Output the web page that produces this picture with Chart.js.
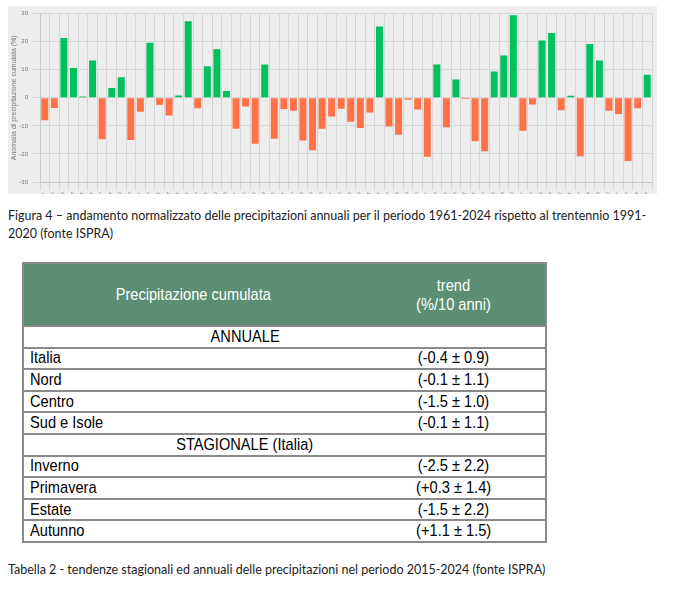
<!DOCTYPE html>
<html>
<head>
<meta charset="utf-8">
<script src="https://cdn.jsdelivr.net/npm/chart.js@4/dist/chart.umd.min.js"></script>
<style>
  body { margin: 0; background: #fff; width: 686px; height: 611px; position: relative; overflow: hidden; }
  .chart-box { position: absolute; left: 8px; top: 6px; width: 649px; height: 188px; background: #ededed; }
  .caption { position: absolute; left: 8px; font-family: Lato, "Open Sans", sans-serif; font-size: 12.5px; color: #222; line-height: 18px; }
  table { position: absolute; left: 22px; top: 262px; width: 525px; border-collapse: collapse;
          font-family: "Liberation Sans", Arial, sans-serif; font-size: 17px; color: #000; }
  th { background: #5b8e73; color: #fff; font-weight: normal; height: 61px; line-height: 19px; padding: 0; }
  th:first-child { border-left: 2px solid #8a8a8a; }
  th:last-child { border-right: 2px solid #8a8a8a; }
  tr.head { border-top: 2px solid #8a8a8a; }
  td { height: 19.6px; border-top: 2px solid #8a8a8a; border-bottom: 2px solid #8a8a8a; padding: 0 6px; line-height: 18px; }
  td:first-child { border-left: 2px solid #8a8a8a; }
  td:last-child { border-right: 2px solid #8a8a8a; }
  .c { text-align: center; }
  .sec { text-align: center; padding-right: 85px; border-left: 2px solid #8a8a8a; border-right: 2px solid #8a8a8a; }
  .n { display: inline-block; transform: scaleX(0.86); transform-origin: center; white-space: nowrap; }
  .l { transform-origin: left; }
</style>
</head>
<body>
<div class="chart-box"><canvas class="js-chart"></canvas></div>

<div class="caption" style="top: 207px;">Figura 4 – andamento normalizzato delle precipitazioni annuali per il periodo 1961-2024 rispetto al trentennio 1991-<br>2020 (fonte ISPRA)</div>

<table>
  <tr class="head"><th style="width: 338px;"><span class="n">Precipitazione cumulata</span></th><th><span class="n">trend<br>(%/10 anni)</span></th></tr>
  <tbody class="js-table"></tbody>
</table>

<div class="caption" style="top: 561px;">Tabella 2 - tendenze stagionali ed annuali delle precipitazioni nel periodo 2015-2024 (fonte ISPRA)</div>

<script>
const years = [];
for (let y = 1961; y <= 2024; y++) years.push(String(y));

const anomalies = [
    -8, -3.6, 21.3, 10.6, 0.5, 13.3, -14.8, 3.5, 7.3, -15,
    -5, 19.6, -2.5, -6.3, 0.8, 27.3, -3.7, 11.2, 17.3, 2.4,
    -11, -3.1, -16.4, 11.9, -14.6, -4, -4.6, -15.2, -18.7, -11,
    -6.7, -3.9, -8.5, -10.8, -5.2, 25.4, -10.2, -13.2, -0.7, -4.2,
    -21, 11.9, -10.5, 6.5, -0.4, -15.5, -19, 9.4, 15.1, 29.4,
    -11.7, -2.4, 20.4, 23.1, -4.4, 0.7, -20.8, 19.2, 13.3, -4.6,
    -5.8, -22.5, -3.7, 8.2
];

const yTicks = [-30, -20, -10, 0, 10, 20, 30];

const annualRegions = ['Italia', 'Nord', 'Centro', 'Sud e Isole'];
const annualTrends = ['(-0.4 ± 0.9)', '(-0.1 ± 1.1)', '(-1.5 ± 1.0)', '(-0.1 ± 1.1)'];
const seasons = ['Inverno', 'Primavera', 'Estate', 'Autunno'];
const seasonTrends = ['(-2.5 ± 2.2)', '(+0.3 ± 1.4)', '(-1.5 ± 2.2)', '(+1.1 ± 1.5)'];

const GREEN = 'rgb(0, 192, 96)';
const ORANGE = 'rgb(255, 114, 72)';

function row(name, trend) {
    return `<tr><td><span class="n l">${name}</span></td><td class="c"><span class="n">${trend}</span></td></tr>`;
}

function buildTable() {
    const body = document.querySelector('.js-table');
    let html = '<tr><td class="sec" colspan="2"><span class="n">ANNUALE</span></td></tr>';
    annualRegions.forEach((name, i) => { html += row(name, annualTrends[i]); });
    html += '<tr><td class="sec" colspan="2"><span class="n">STAGIONALE (Italia)</span></td></tr>';
    seasons.forEach((name, i) => { html += row(name, seasonTrends[i]); });
    body.innerHTML = html;
}

function drawChart() {
    const ctx = document.querySelector('.js-chart').getContext('2d');
    new Chart(ctx, {
        type: 'bar',
        data: {
            labels: years,
            datasets: [{
                data: anomalies,
                backgroundColor: anomalies.map(v => v >= 0 ? GREEN : ORANGE),
                categoryPercentage: 1,
                barPercentage: 0.73,
            }]
        },
        options: {
            responsive: true,
            maintainAspectRatio: false,
            animation: false,
            layout: { padding: { top: 7, right: 5, left: 0, bottom: 0 } },
            plugins: { legend: { display: false }, tooltip: { enabled: false } },
            scales: {
                x: {
                    grid: { color: '#d6d6d6', offset: true },
                    border: { color: '#c8c8c8' },
                    ticks: { font: { size: 5 }, color: '#888', autoSkip: false, maxRotation: 45, minRotation: 45, padding: 1 },
                    afterFit(scale) { scale.height = 12; }
                },
                y: {
                    min: -30, max: 30,
                    afterBuildTicks(scale) { scale.ticks = yTicks.map(v => ({ value: v })); },
                    grid: { color: '#d6d6d6' },
                    border: { color: '#c8c8c8' },
                    ticks: { font: { size: 6 }, color: '#777', padding: 4 },
                    title: { display: true, text: 'Anomalia di precipitazione cumulata (%)', font: { size: 7 }, color: '#777', padding: 2 },
                    afterFit(scale) { scale.width = 32; }
                }
            }
        }
    });
}

buildTable();
drawChart();
</script>
</body>
</html>
